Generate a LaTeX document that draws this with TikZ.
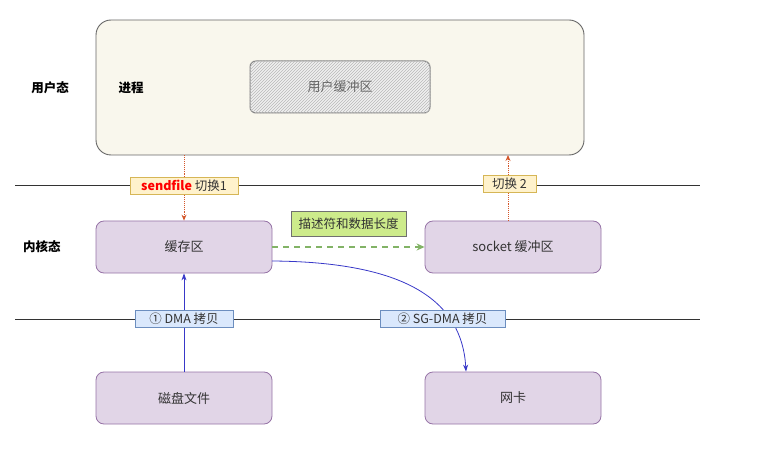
\documentclass[tikz,border=0pt]{standalone}
\usepackage{fontspec}
\setmainfont{Noto Sans CJK SC}
\usetikzlibrary{arrows.meta,patterns}
\definecolor{procfill}{HTML}{F9F7ED}
\definecolor{procdraw}{HTML}{666666}
\definecolor{purfill}{HTML}{E1D5E7}
\definecolor{purdraw}{HTML}{9673A6}
\definecolor{yelfill}{HTML}{FFF2CC}
\definecolor{yeldraw}{HTML}{D6B656}
\definecolor{bluefill}{HTML}{DAE8FC}
\definecolor{bluedraw}{HTML}{6C8EBF}
\definecolor{grnfill}{HTML}{CDEB8B}
\definecolor{grnarrow}{HTML}{82B366}
\definecolor{redarrow}{HTML}{D4572A}
\definecolor{bluearrow}{HTML}{3838C8}
\definecolor{txt}{HTML}{333333}
\tikzset{
  purbox/.style={draw=purdraw, fill=purfill, rounded corners=8pt, line width=0.8pt, minimum width=176pt, minimum height=52pt, text=txt, font=\fontsize{13}{15}\selectfont},
  tag/.style={draw, line width=0.8pt, inner xsep=4pt, inner ysep=2pt, minimum height=17pt, text=txt, font=\fontsize{12.5}{14}\selectfont},
  ytag/.style={tag, draw=yeldraw, fill=yelfill},
  btag/.style={tag, draw=bluedraw, fill=bluefill},
  gtag/.style={tag, draw=txt!70, fill=grnfill, minimum height=25pt, inner xsep=5pt},
  side/.style={font=\bfseries\fontsize{12.5}{14}\selectfont, text=black},
  redarr/.style={redarrow, densely dotted, line width=0.9pt, -{Stealth[length=6pt,width=5pt]}},
  bluearr/.style={bluearrow, line width=0.8pt, -{Stealth[length=7pt,width=5pt]}},
  sep/.style={draw=txt, line width=0.9pt}
}
\begin{document}
\begin{tikzpicture}[x=1pt,y=-1pt]
\useasboundingbox (0,0) rectangle (771,449);
% process box
\node[draw=procdraw, fill=procfill, rounded corners=15pt, line width=0.9pt, minimum width=488pt, minimum height=135pt] (proc) at (340,87.5) {};
\node[draw=procdraw!80, fill=gray!12, rounded corners=6pt, line width=1pt, minimum width=180pt, minimum height=52pt] (ubufbg) at (340,87) {};
\fill[pattern=north east lines, pattern color=gray!55, rounded corners=6pt] (ubufbg.south west) rectangle (ubufbg.north east);
\node[text=gray!80!black, font=\fontsize{13}{15}\selectfont] (ubuf) at (340,87) {用户缓冲区};
\node[side] (jc) at (131,88) {进程};
\node[side] (uside) at (50,88) {用户态};
\node[side] (kside) at (42,247) {内核态};
% separator lines
\coordinate (l1a) at (15,185); \coordinate (l1b) at (700,185);
\coordinate (l2a) at (15,319); \coordinate (l2b) at (700,319);
\draw[sep] (l1a) -- (l1b);
\draw[sep] (l2a) -- (l2b);
% boxes
\node[purbox] (cache) at (184,247) {缓存区};
\node[purbox] (sock) at (513,247) {socket 缓冲区};
\node[purbox] (disk) at (184,398) {磁盘文件};
\node[purbox] (nic) at (513,398) {网卡};
% red dotted arrows
\draw[redarr] (proc.south -| cache.north) -- (cache.north);
\draw[redarr] (sock.north -| 508,0) -- (508,155);
% green dashed arrow
\draw[grnarrow, dash pattern=on 6pt off 5pt, line width=1.3pt, -{Stealth[length=8pt,width=7pt]}] (cache.east) -- (sock.west);
\node[gtag, minimum width=115pt] (desc) at (348.5,223.5) {描述符和数据长度};
% blue arrows
\draw[bluearr] (272,261) .. controls (405,262) and (462,300) .. (nic.north -| 466,0);
\draw[bluearr] (disk.north) -- (cache.south);
% tags
\node[ytag, minimum width=108pt] (t1) at (184,185.5) {\textcolor{red}{\bfseries sendfile} 切换1};
\node[ytag, minimum width=53pt] (t2) at (509.5,184) {切换 2};
\node[btag, minimum width=98pt] (t3) at (184,319) {① DMA 拷贝};
\node[btag, minimum width=125pt] (t4) at (442.5,319) {② SG-DMA 拷贝};
\end{tikzpicture}
\end{document}
